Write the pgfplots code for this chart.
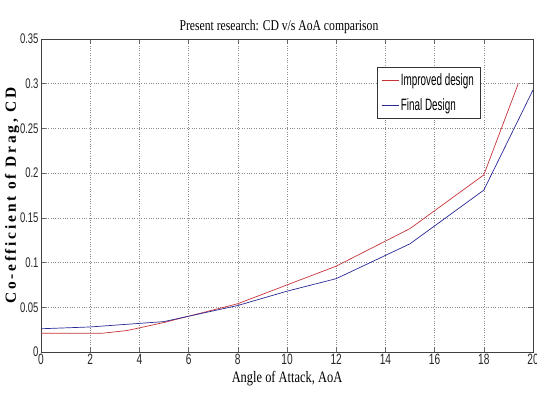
\documentclass[border=0pt]{standalone}
\usepackage{fontspec}
\setmainfont{Liberation Serif}
\newfontfamily\narrowsans[FakeStretch=0.68]{Liberation Sans}
\newfontfamily\legsans[FakeStretch=0.6]{Liberation Sans}
\newfontfamily\narrowserif[FakeStretch=0.78]{Liberation Serif}
\newfontfamily\widebold[LetterSpace=18]{Liberation Serif Bold}
\usepackage{pgfplots}
\pgfplotsset{compat=1.18}
\definecolor{redline}{RGB}{200,50,55}
\definecolor{blueline}{RGB}{40,40,150}
\begin{document}
\begin{tikzpicture}[x=1bp,y=1bp]
\begin{axis}[
  scale only axis,
  width=492bp, height=313bp,
  xmin=0, xmax=20, ymin=0, ymax=0.35,
  xtick={0,2,...,20},
  ytick={0,0.05,0.1,0.15,0.2,0.25,0.3,0.35},
  yticklabels={0,0.05,0.1,0.15,0.2,0.25,0.3,0.35},
  xticklabels={0,2,4,6,8,10,12,14,16,18,20},
  tick align=inside,
  major tick length=5bp,
  tick style={black!60, line width=0.6pt},
  axis line style={black!75, line width=0.8pt},
  grid=major,
  grid style={black!45, dotted, line width=0.5pt},
  xticklabel style={font=\narrowsans\fontsize{15}{15}\selectfont, text=black!85, yshift=1bp},
  yticklabel style={font=\narrowsans\fontsize{14}{14}\selectfont, text=black!85, xshift=1bp},
  title={\narrowserif\fontsize{15}{15}\selectfont Present research: CD v/s AoA comparison},
  title style={yshift=-4bp, xshift=-8bp},
  xlabel={\narrowserif\fontsize{16}{16}\selectfont Angle of Attack, AoA},
  xlabel style={yshift=1bp},
  ylabel={\widebold\fontsize{15.5}{15.5}\selectfont Co-efficient of Drag, CD},
  ylabel style={yshift=-6bp},
  legend style={at={(0.683,0.911)}, anchor=north west, draw=black!80,
    line width=0.6pt, font=\legsans\fontsize{16.5}{17}\selectfont,
    inner sep=4bp, row sep=8bp, cells={anchor=west}},
  legend image post style={line width=0.6pt},
  legend cell align=left,
]
\addplot[redline, line width=0.7pt] coordinates {
  (0,0.021) (2.5,0.021) (3.5,0.024) (5,0.033) (6,0.040) (8,0.054)
  (10,0.075) (12,0.096) (15,0.138) (18,0.198) (19.4,0.300)
};
\addlegendentry{Improved design}
\addplot[blueline, line width=0.7pt] coordinates {
  (0,0.026) (2,0.028) (4,0.032) (5,0.034) (6,0.040) (8,0.052)
  (10,0.068) (12,0.082) (15,0.121) (18,0.181) (20,0.293)
};
\addlegendentry{Final Design}
\end{axis}
\pgfresetboundingbox
\useasboundingbox ([xshift=-41bp,yshift=-42bp]current axis.south west) rectangle ([xshift=4bp,yshift=39bp]current axis.north east);
\end{tikzpicture}
\end{document}
